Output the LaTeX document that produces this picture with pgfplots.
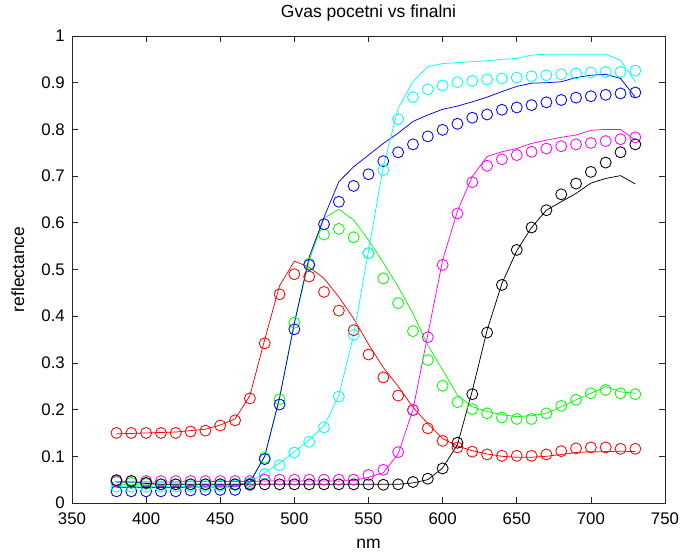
\documentclass[border=0pt]{standalone}
\usepackage{fontspec}
\setmainfont{Liberation Sans}
\usepackage{pgfplots}
\pgfplotsset{compat=1.18}
\usepackage{pgfplotstable}

\pgfplotstableread{
nm  rl    rm    gl    gm    bl    bm    cl    cm    ml    mm    kl    km
380 0.148 0.150 0.040 0.045 0.033 0.025 0.035 0.035 0.045 0.047 0.045 0.049
390 0.149 0.150 0.040 0.043 0.033 0.025 0.035 0.035 0.045 0.047 0.045 0.047
400 0.150 0.150 0.040 0.041 0.033 0.025 0.035 0.035 0.045 0.047 0.042 0.043
410 0.151 0.150 0.040 0.040 0.033 0.025 0.035 0.035 0.045 0.047 0.040 0.040
420 0.152 0.150 0.040 0.040 0.033 0.025 0.035 0.035 0.045 0.047 0.040 0.040
430 0.155 0.153 0.040 0.040 0.034 0.027 0.036 0.036 0.046 0.047 0.040 0.040
440 0.158 0.155 0.040 0.040 0.034 0.028 0.036 0.036 0.046 0.047 0.040 0.040
450 0.167 0.166 0.040 0.040 0.034 0.028 0.037 0.037 0.046 0.047 0.040 0.040
460 0.180 0.177 0.040 0.040 0.035 0.028 0.038 0.038 0.046 0.047 0.040 0.040
470 0.230 0.224 0.042 0.042 0.045 0.039 0.045 0.043 0.046 0.047 0.040 0.040
480 0.350 0.342 0.100 0.097 0.100 0.094 0.065 0.062 0.047 0.050 0.040 0.040
490 0.465 0.447 0.225 0.222 0.225 0.211 0.085 0.081 0.047 0.050 0.040 0.040
500 0.518 0.490 0.385 0.386 0.385 0.372 0.110 0.108 0.047 0.050 0.040 0.040
510 0.505 0.485 0.520 0.512 0.527 0.510 0.135 0.131 0.047 0.050 0.040 0.040
520 0.481 0.452 0.610 0.575 0.612 0.597 0.165 0.162 0.047 0.050 0.040 0.040
530 0.441 0.412 0.629 0.587 0.688 0.645 0.230 0.228 0.047 0.050 0.040 0.040
540 0.395 0.370 0.606 0.569 0.720 0.679 0.360 0.360 0.048 0.050 0.040 0.040
550 0.340 0.318 0.563 0.535 0.745 0.704 0.540 0.535 0.055 0.060 0.040 0.040
560 0.290 0.269 0.515 0.481 0.770 0.732 0.720 0.713 0.065 0.071 0.040 0.039
570 0.250 0.230 0.463 0.428 0.792 0.751 0.845 0.822 0.105 0.109 0.040 0.040
580 0.205 0.199 0.406 0.368 0.817 0.768 0.903 0.869 0.200 0.199 0.043 0.045
590 0.170 0.160 0.338 0.306 0.831 0.785 0.934 0.886 0.360 0.355 0.050 0.052
600 0.138 0.133 0.285 0.251 0.843 0.799 0.941 0.894 0.520 0.510 0.075 0.074
610 0.122 0.119 0.231 0.216 0.850 0.812 0.943 0.901 0.625 0.620 0.125 0.129
620 0.112 0.110 0.206 0.201 0.859 0.825 0.945 0.904 0.699 0.687 0.240 0.233
630 0.105 0.104 0.196 0.192 0.869 0.832 0.947 0.907 0.742 0.722 0.370 0.365
640 0.100 0.101 0.189 0.183 0.881 0.842 0.950 0.909 0.752 0.736 0.470 0.467
650 0.098 0.101 0.185 0.180 0.892 0.847 0.952 0.911 0.759 0.745 0.540 0.542
660 0.098 0.101 0.187 0.180 0.899 0.852 0.959 0.914 0.770 0.752 0.590 0.590
670 0.100 0.104 0.192 0.192 0.900 0.858 0.961 0.916 0.777 0.759 0.627 0.627
680 0.104 0.111 0.206 0.208 0.902 0.863 0.961 0.918 0.783 0.764 0.645 0.661
690 0.108 0.117 0.221 0.221 0.911 0.868 0.961 0.920 0.788 0.768 0.663 0.684
700 0.110 0.119 0.235 0.235 0.916 0.871 0.961 0.922 0.798 0.771 0.685 0.709
710 0.110 0.119 0.249 0.242 0.918 0.874 0.961 0.923 0.800 0.775 0.695 0.729
720 0.111 0.116 0.238 0.235 0.909 0.877 0.948 0.923 0.800 0.779 0.701 0.751
730 0.110 0.116 0.235 0.233 0.869 0.879 0.902 0.926 0.777 0.783 0.683 0.768
}\data

\definecolor{mred}{rgb}{1,0,0}
\definecolor{mgreen}{rgb}{0,1,0}
\definecolor{mblue}{rgb}{0,0,1}
\definecolor{mcyan}{rgb}{0,1,1}
\definecolor{mmag}{rgb}{1,0,1}
\definecolor{mblack}{rgb}{0,0,0}

\begin{document}
\begin{tikzpicture}
\begin{axis}[name=ax, scale only axis, width=593pt, height=467pt,
  xmin=350, xmax=750, ymin=0, ymax=1,
  xtick={350,400,450,500,550,600,650,700,750},
  ytick={0,0.1,0.2,0.3,0.4,0.5,0.6,0.7,0.8,0.9,1},
  tick align=inside, major tick length=6pt,
  axis line style={line width=0.9pt, black!85},
  every tick/.style={line width=0.7pt, black!85},
  /pgf/number format/assume math mode=true,
  ticklabel style={font=\fontsize{16.8}{19}\selectfont},
  xticklabel style={anchor=base, yshift=-21pt},
  yticklabel style={anchor=east, inner sep=0pt, xshift=-7pt},
  title={Gvas pocetni vs finalni},
  title style={at={(axis description cs:0.5,1.0278)}, anchor=base, inner sep=0pt, font=\fontsize{17.5}{20}\selectfont},
  xlabel={nm},
  xlabel style={at={(axis description cs:0.5,-0.0964)}, anchor=base, inner sep=0pt, font=\fontsize{17.5}{20}\selectfont},
  ylabel={reflectance},
  ylabel style={at={(axis description cs:-0.0911,0.5)}, anchor=center, inner sep=0pt, font=\fontsize{17.5}{20}\selectfont},
  every axis plot/.append style={line width=0.75pt},
  mk/.style={only marks, mark=o, mark size=5.5pt, mark options={line width=0.85pt}},
]
\addplot[mred] table[x=nm,y=rl]{\data};
\addplot[mred, mk] table[x=nm,y=rm]{\data};
\addplot[mgreen] table[x=nm,y=gl]{\data};
\addplot[mgreen, mk] table[x=nm,y=gm]{\data};
\addplot[mblue] table[x=nm,y=bl]{\data};
\addplot[mblue, mk] table[x=nm,y=bm]{\data};
\addplot[mcyan] table[x=nm,y=cl]{\data};
\addplot[mcyan, mk] table[x=nm,y=cm]{\data};
\addplot[mmag] table[x=nm,y=ml]{\data};
\addplot[mmag, mk] table[x=nm,y=mm]{\data};
\addplot[mblack] table[x=nm,y=kl]{\data};
\addplot[mblack, mk] table[x=nm,y=km]{\data};
\end{axis}
\pgfresetboundingbox
\path (ax.south west) ++(-72pt,-52pt) rectangle ([xshift=18pt,yshift=36pt]ax.north east);
\end{tikzpicture}
\end{document}
